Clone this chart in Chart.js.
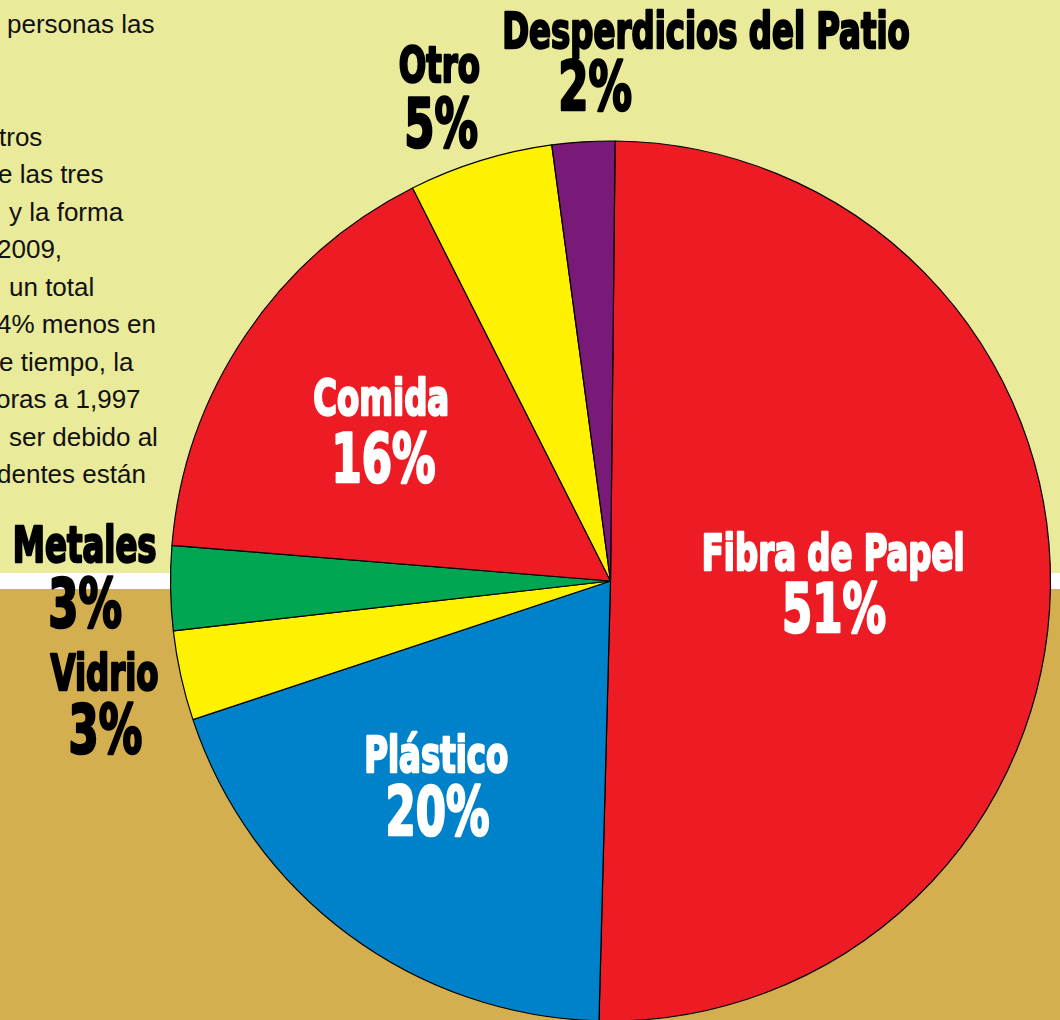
<!DOCTYPE html>
<html>
<head>
<meta charset="utf-8">
<script src="https://cdn.jsdelivr.net/npm/chart.js@4"></script>
<style>
  html, body { margin: 0; padding: 0; }
  body {
    width: 1060px; height: 1020px; overflow: hidden; position: relative;
    background: linear-gradient(to bottom, #E9EA9A 0, #E9EA9A 573px, #FFFFFF 573px, #FFFFFF 589px, #D4AF50 589px, #D4AF50 100%);
  }
  #para { position: absolute; left: 0; top: 0; font-family: "Liberation Sans", Arial, sans-serif; font-size: 26px; color: #111; }
  #para div { position: absolute; white-space: nowrap; line-height: 1; }
  #wrap { position: absolute; left: 0; top: 0; width: 1060px; height: 1040px; }
</style>
</head>
<body>
<div id="para"></div>
<div id="wrap"><canvas id="c" width="1060" height="1040"></canvas></div>
<script>
// ---- data ----
const categories = ['Fibra de Papel', 'Plástico', 'Vidrio', 'Metales', 'Comida', 'Otro', 'Desperdicios del Patio'];
const printedPercent = [51, 20, 3, 3, 16, 5, 2];
const sliceShare = [50.3, 19.5, 3.3, 3.1, 16.3, 5.3, 2.3];
const sliceColors = ['#ED1C24', '#0082CA', '#FFF200', '#00A651', '#ED1C24', '#FFF200', '#7A1A78'];
const paragraphLines = ['personas las', '', '', 'tros', 'e las tres', 'y la forma', '2009,', 'un total', '4% menos en', 'e tiempo, la', 'oras a 1,997', 'ser debido al', 'dentes están'];

// ---- paragraph (cropped text on the left) ----
const paraIndent = [7, 0, 0, -1, -2, 9, -3, 9, -3, -1, -4, 9, -3];
const para = document.getElementById('para');
paragraphLines.forEach((t, i) => {
  if (!t) return;
  const d = document.createElement('div');
  d.textContent = t;
  d.style.left = paraIndent[i] + 'px';
  d.style.top = (11 + i * 37.5) + 'px';
  para.appendChild(d);
});

// ---- label placement (in units of pie radius, relative to pie centre) ----
const labelPlace = [
  { nx: 0.506, ny: -0.025, px: 0.508, py: 0.116, color: '#FFFFFF' },
  { nx: -0.396, ny: 0.434, px: -0.393, py: 0.577, color: '#FFFFFF' },
  { nx: -1.150, ny: 0.248, px: -1.148, py: 0.391, color: '#000000' },
  { nx: -1.195, ny: -0.043, px: -1.194, py: 0.105, color: '#000000' },
  { nx: -0.521, ny: -0.377, px: -0.516, py: -0.225, color: '#FFFFFF' },
  { nx: -0.389, ny: -1.134, px: -0.385, py: -0.986, color: '#000000' },
  { nx: 0.217, ny: -1.211, px: -0.035, py: -1.070, color: '#000000' }
];
const NAME_FONT = 'bold 50px "DejaVu Sans Condensed", "DejaVu Sans", sans-serif';
const PCT_FONT = 'bold 68px "DejaVu Sans Condensed", "DejaVu Sans", sans-serif';
const NAME_SQUEEZE = 0.72;
const PCT_SQUEEZE = 0.71;

function drawHeavy(ctx, text, x, y, font, color, sx, lw) {
  ctx.save();
  ctx.translate(x, y);
  ctx.scale(sx, 1);
  ctx.font = font;
  ctx.textAlign = 'center';
  ctx.textBaseline = 'alphabetic';
  ctx.fillStyle = color;
  ctx.strokeStyle = color;
  ctx.lineWidth = lw;
  ctx.lineJoin = 'round';
  ctx.fillText(text, 0, 0);
  ctx.strokeText(text, 0, 0);
  ctx.restore();
}

const labelPlugin = {
  id: 'sliceLabels',
  afterDatasetsDraw(chart) {
    const meta = chart.getDatasetMeta(0);
    const a0 = meta.data[0];
    const cx = a0.x, cy = a0.y, r = a0.outerRadius;
    const ctx = chart.ctx;
    categories.forEach((name, i) => {
      const p = labelPlace[i];
      drawHeavy(ctx, name, cx + p.nx * r, cy + p.ny * r, NAME_FONT, p.color, NAME_SQUEEZE, 2.4);
      drawHeavy(ctx, printedPercent[i] + '%', cx + p.px * r, cy + p.py * r, PCT_FONT, p.color, PCT_SQUEEZE, 2.6);
    });
  }
};

new Chart(document.getElementById('c'), {
  type: 'pie',
  data: {
    labels: categories,
    datasets: [{
      data: sliceShare,
      backgroundColor: sliceColors,
      borderColor: '#000000',
      borderWidth: 1.2,
      radius: 440
    }]
  },
  options: {
    responsive: false,
    animation: false,
    devicePixelRatio: 1,
    rotation: 0.6,
    layout: { padding: { left: 161, right: 0, top: 122, bottom: 0 } },
    plugins: { legend: { display: false }, tooltip: { enabled: false } }
  },
  plugins: [labelPlugin]
});
</script>
</body>
</html>
